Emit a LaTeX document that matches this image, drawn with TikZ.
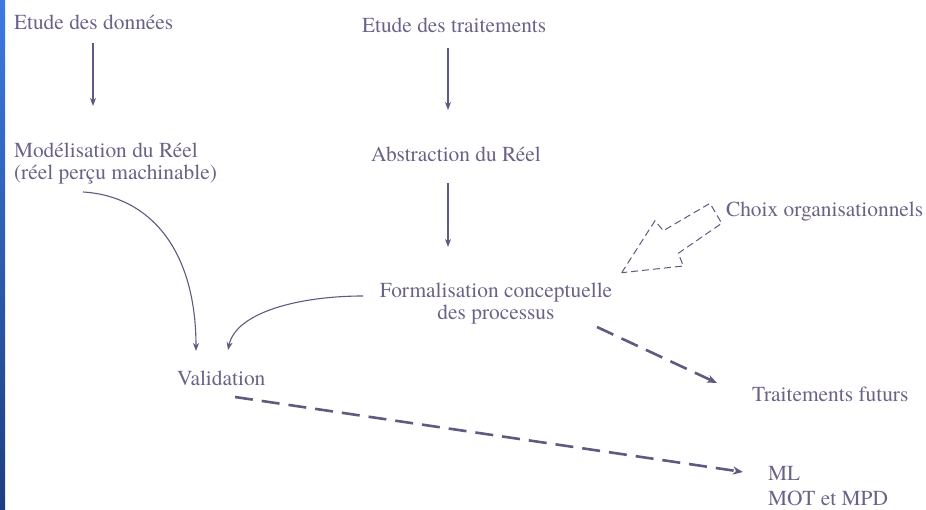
\documentclass[tikz,border=0pt]{standalone}
\usepackage{fontspec}
\setmainfont{texgyretermes-regular.otf}
\newfontfamily\tnr{texgyretermes-regular.otf}
\usetikzlibrary{arrows.meta,calc}
\definecolor{txt}{RGB}{108,98,135}
\definecolor{ln}{RGB}{98,88,128}
\definecolor{stripTop}{RGB}{60,122,226}
\definecolor{stripBot}{RGB}{30,62,128}
\tikzset{
  lbl/.style={inner sep=0pt, outer sep=0pt, text=txt, font=\tnr\fontsize{21.4}{22}\selectfont},
  arr/.style={draw=ln, line width=1.1pt, -{Stealth[length=8pt,width=6pt,inset=2.5pt]}},
  darr/.style={draw=ln, line width=2.6pt, dash pattern=on 18pt off 9pt,
     -{Stealth[length=10pt,width=8pt,inset=3pt]}},
  hollow/.style={draw=ln, line width=1pt, dash pattern=on 7pt off 4pt, line join=miter}
}
\begin{document}
\begin{tikzpicture}[x=1pt,y=-1pt]
\useasboundingbox (0,0) rectangle (926,510);
\shade[top color=stripTop, bottom color=stripBot] (0,0) rectangle (5,510);

\node[lbl, anchor=base west] (donnees) at (14,29.5) {Etude des données};
\node[lbl, anchor=base west, align=left] (model) at (14,180) {Modélisation du Réel\\(réel perçu machinable)};
\node[lbl, anchor=base west] (trait) at (362,33) {Etude des traitements};
\node[lbl, anchor=base west] (abst) at (371,162) {Abstraction du Réel};
\node[lbl, anchor=base, align=center] (form) at (496,320) {Formalisation conceptuelle\\des processus};
\node[lbl, anchor=base west] (choix) at (726,217) {Choix organisationnels};
\node[lbl, anchor=base west] (valid) at (177,385) {Validation};
\node[lbl, anchor=base west] (futur) at (752,401) {Traitements futurs};
\node[lbl, anchor=base west, align=left, font=\tnr\fontsize{21.4}{24.5}\selectfont] (ml) at (768,505) {ML\\MOT et MPD};

\draw[arr] ($(donnees.base west)+(79,13.5)$) -- ($(model.base west)+(79,-74)$);
\draw[arr] ($(trait.base west)+(86,15)$) -- ($(abst.base west)+(77,-52)$);
\draw[arr] ($(abst.base west)+(77,21)$) -- ($(form.base)+(-48,-73)$);

\draw[arr] ($(model.base west)+(69,12)$) .. controls (150,196) and (196,250) .. ($(valid.base west)+(19,-34)$);
\draw[arr] ($(form.base)+(-133,-24)$) .. controls (300,296) and (236,312) .. ($(valid.base west)+(51,-35)$);

\draw[darr] ($(form.base)+(101,7)$) -- ($(futur.base west)+(-35,-18)$);
\draw[darr] ($(valid.base west)+(58,12)$) -- ($(ml.base west)+(-25,-33)$);

\draw[hollow] (621.7,272.7) -- (655,220.7) -- (663.3,230.7) -- (710,203.3)
  -- (721.7,223.3) -- (678.3,253.3) -- (683.3,266) -- cycle;
\end{tikzpicture}
\end{document}
